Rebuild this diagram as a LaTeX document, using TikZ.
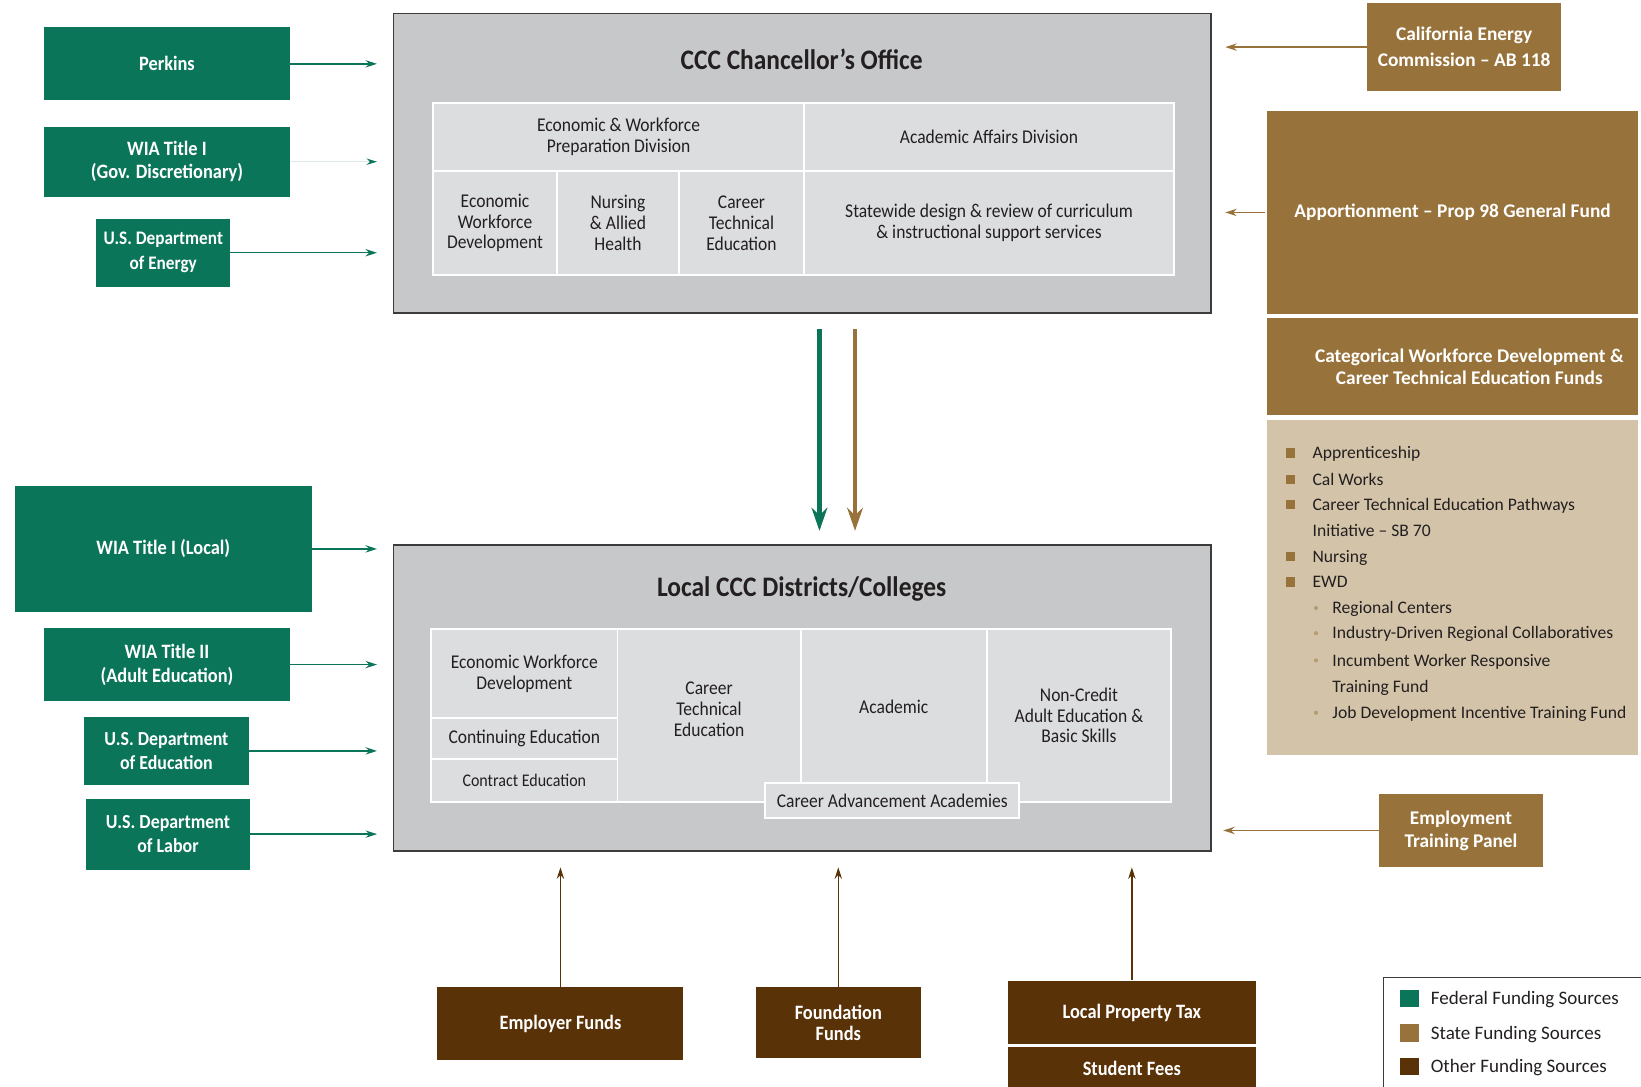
\documentclass[tikz,border=0pt]{standalone}
\usepackage{fontspec}
\setmainfont{Carlito}[FakeStretch=0.9]
\newfontfamily\widefont{Carlito}
\usetikzlibrary{arrows.meta}
\definecolor{fedgreen}{HTML}{0B7559}
\definecolor{stategold}{HTML}{97723A}
\definecolor{otherbrown}{HTML}{5A3208}
\definecolor{tanlist}{HTML}{D3C4A9}
\definecolor{boxgray}{HTML}{C7C8CA}
\definecolor{cellgray}{HTML}{DCDDDF}
\definecolor{inkgray}{HTML}{231F20}
\definecolor{framegray}{HTML}{3C3C3C}
\newcommand{\fsz}[2]{\fontsize{#1}{#2}\selectfont}

\begin{document}
\begin{tikzpicture}[x=1pt,y=-1pt,
    sz/.style 2 args={minimum width=#1,minimum height=#2},
    fund/.style={rectangle,inner sep=0pt,align=center,text=white,font=\bfseries\fsz{19.5}{22}},
    fed/.style={fund,fill=fedgreen},
    state/.style={fund,fill=stategold,font=\widefont\bfseries\fsz{18.5}{24}},
    other/.style={fund,fill=otherbrown},
    office/.style={rectangle,inner sep=0pt,fill=boxgray,draw=framegray,line width=1.5pt},
    cell/.style={rectangle,inner sep=0pt,align=center,fill=cellgray,draw=white,line width=1.8pt,text=inkgray,font=\fsz{18.6}{20}},
    title/.style={font=\bfseries\fsz{27}{30},text=inkgray},
    feed/.style={-{Stealth[length=11pt,width=7pt]},line width=1.3pt},
    flow/.style={-{Stealth[length=22pt,width=15pt]},line width=4.5pt},
    listtxt/.style={anchor=base west,inner sep=0pt,font=\widefont\fsz{16.8}{20},text=inkgray},
    key/.style={anchor=base west,inner sep=0pt,font=\widefont\fsz{18.2}{20},text=inkgray}]
  \useasboundingbox (0,0) rectangle (1568,1038.6);

  % federal
  \node[fed,sz={235}{70}] (perkins) at (159.5,61) {Perkins};
  \node[fed,sz={235}{67}] (wiagov) at (159.5,154.5) {WIA Title I\\(Gov. Discretionary)};
  \node[fed,sz={128}{65},font=\bfseries\fsz{18.3}{24}] (doe) at (156,241.5) {U.S. Department\\of Energy};
  \node[fed,sz={284}{121}] (wialocal) at (156,524.5) {WIA Title I (Local)};
  \node[fed,sz={235}{70},font=\bfseries\fsz{19.5}{23}] (wiaadult) at (159.5,635) {WIA Title II\\(Adult Education)};
  \node[fed,sz={158}{65},font=\bfseries\fsz{19}{23}] (doed) at (159,717.5) {U.S. Department\\of Education};
  \node[fed,sz={157}{68},font=\bfseries\fsz{19}{23}] (dol) at (160.5,797) {U.S. Department\\of Labor};

  % chancellor's office
  \node[office,sz={781}{286}] (chan) at (766.5,156) {};
  \node[title] (chantitle) at (766,57) {CCC Chancellor’s Office};
  \node[cell,sz={354}{65}] (ewpd) at (591,130.5) {Economic \& Workforce\\Preparation Division};
  \node[cell,sz={354}{65}] (aad) at (945,130.5) {Academic Affairs Division};
  \node[cell,sz={118}{100}] (cewd) at (473,213) {Economic\\Workforce\\Development};
  \node[cell,sz={117}{100}] (cnah) at (590.5,213) {Nursing\\\& Allied\\Health};
  \node[cell,sz={119}{100}] (ccte) at (708.5,213) {Career\\Technical\\Education};
  \node[cell,sz={354}{100}] (cdesign) at (945,213) {Statewide design \& review of curriculum\\\& instructional support services};

  % local districts
  \node[office,sz={781}{292}] (local) at (766.5,667) {};
  \node[title] (localtitle) at (766,563) {Local CCC Districts/Colleges};
  \node[cell,sz={178}{85}] (lewd) at (501,643.5) {Economic Workforce\\Development};
  \node[cell,sz={178}{39}] (lcont) at (501,705.5) {Continuing Education};
  \node[cell,sz={178}{41},font=\fsz{17}{20}] (lcontr) at (501,745.5) {Contract Education};
  \node[cell,sz={175}{165}] (lcte) at (677.5,683.5) {};
  \node[cell,sz={178}{165}] (lacad) at (854,683.5) {};
  \node[cell,sz={176}{165}] (lnc) at (1031,683.5) {Non-Credit\\Adult Education \&\\Basic Skills};
  \node[cell,sz={243}{34}] (lcaa) at (852.5,765) {Career Advancement Academies};
  \node[cell,draw=none,fill=none] (lctetxt) at ([yshift=6pt]lcte.center) {Career\\Technical\\Education};
  \node[cell,draw=none,fill=none] (lacadtxt) at ([yshift=8pt]lacad.center) {Academic};

  % state
  \node[state,sz={186}{84},font=\widefont\bfseries\fsz{18.5}{25}] (cec) at (1399,45) {California Energy\\Commission – AB 118};
  \node[state,sz={356}{196},draw=white,line width=2pt] (appo) at (1388,203) {Apportionment – Prop 98 General Fund};
  \node[state,sz={356}{95},draw=white,line width=2pt] (categ) at (1388,350.5) {};
  \node[state,fill=none,font=\widefont\bfseries\fsz{18.5}{21}] (categtxt) at ([xshift=16pt]categ.center) {Categorical Workforce Development \&\\Career Technical Education Funds};
  \node[rectangle,fill=tanlist,draw=white,line width=2pt,sz={356}{322}] (catlist) at (1388,561) {};
  \node[state,sz={156}{69},font=\widefont\bfseries\fsz{18.5}{22}] (etp) at (1396,793.5) {Employment\\Training Panel};

  \foreach \yy/\txt in {433/Apprenticeship,458/Cal Works,482/Career Technical Education Pathways,532/Nursing,556/EWD}{
    \fill[stategold] (1228.5,\yy-4.5) rectangle (1237.5,\yy+4.5);
    \node[listtxt] (item\yy) at (1254,\yy+5.5) {\txt};
  }
  \node[listtxt] (itemsb) at (1254,512.5) {Initiative – SB 70};
  \foreach \yy/\txt in {581/Regional Centers,605/Industry-Driven Regional Collaboratives,631/Incumbent Worker Responsive,681/Job Development Incentive Training Fund}{
    \fill[stategold!70] (1257.5,\yy) circle (2pt);
    \node[listtxt] (sub\yy) at (1273,\yy+5.5) {\txt};
  }
  \node[listtxt] (subtf) at (1273,661.5) {Training Fund};

  % other
  \node[other,sz={235}{70}] (empf) at (535.5,978) {Employer Funds};
  \node[other,sz={158}{68},font=\bfseries\fsz{19.5}{20}] (found) at (801,977) {Foundation\\Funds};
  \node[other,sz={237}{61}] (lpt) at (1081.5,967.5) {Local Property Tax};
  \node[other,sz={237}{42}] (fees) at (1081.5,1021) {Student Fees};

  % arrows
  \foreach \src in {perkins,doe}
    \draw[feed,fedgreen,shorten >=15pt] (\src.east) -- (\src.east -| chan.west);
  \draw[line width=1.3pt,fedgreen!15,-{Stealth[length=10pt,width=6pt,color=fedgreen]},shorten >=15pt] (wiagov.east) -- (wiagov.east -| chan.west);
  \foreach \src in {wialocal,wiaadult,doed,dol}
    \draw[feed,fedgreen,shorten >=15pt] (\src.east) -- (\src.east -| local.west);
  \draw[feed,stategold,shorten >=13pt] (cec.west) -- (cec.west -| chan.east);
  \draw[feed,stategold,shorten >=13pt] (appo.west) -- (appo.west -| chan.east);
  \draw[feed,stategold,shorten >=11pt] (etp.west) -- (etp.west -| local.east);
  \foreach \src in {empf,found,lpt}
    \draw[feed,otherbrown,shorten >=15pt] (\src.north) -- (\src.north |- local.south);
  \draw[flow,fedgreen,shorten <=15pt,shorten >=13pt] ([xshift=16.5pt]chan.south) -- ([xshift=16.5pt]local.north);
  \draw[flow,stategold,shorten <=15pt,shorten >=13pt] ([xshift=50.5pt]chan.south) -- ([xshift=50.5pt]local.north);

  % legend
  \node[draw=framegray,line width=1.2pt,anchor=north west,sz={260}{120}] (legend) at (1321,933.5) {};
  \foreach \yy/\col/\txt in {954/fedgreen/Federal,987/stategold/State,1019/otherbrown/Other}{
    \fill[\col] (1338,\yy-8.5) rectangle (1356,\yy+8.5);
    \node[key] (key\txt) at (1367,\yy+6) {\txt\ Funding Sources};
  }
\end{tikzpicture}
\end{document}
